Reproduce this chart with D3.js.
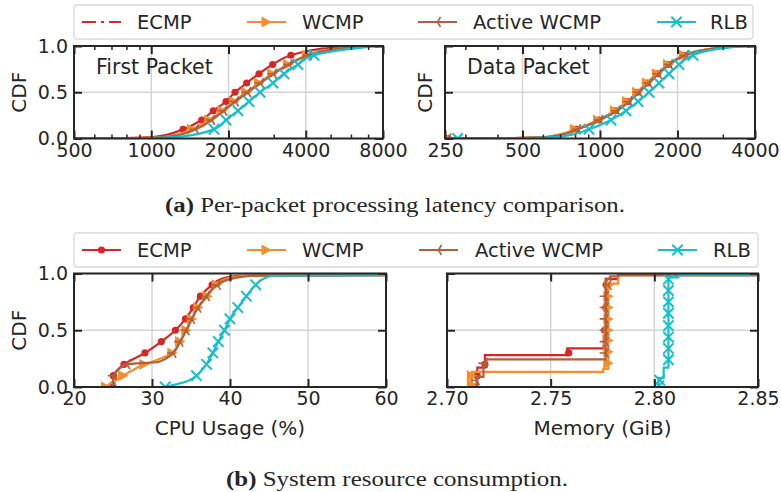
<!DOCTYPE html>
<html><head><meta charset="utf-8">
<script src="https://cdn.jsdelivr.net/npm/d3@7"></script>
<style>
body{margin:0;background:#fff}
svg{display:block}
text{font-family:"DejaVu Sans",sans-serif;fill:#262626}
</style>
</head><body>
<svg id="c" width="781" height="492"></svg>
<script>
// ---------------- DATA ----------------
const seriesNames = ["ECMP", "WCMP", "Active WCMP", "RLB"];
const seriesColors = ["#d62728", "#f28e2b", "#b0603a", "#17becf"];

// latency CDFs: value at each CDF level
const latencyLevels = [0, 0.005, 0.02, 0.1, 0.2, 0.3, 0.4, 0.5, 0.6, 0.7, 0.8, 0.9, 0.95, 0.98, 0.995, 1];
const firstPacketECMP   = [450, 800, 1050, 1330, 1573, 1744, 1956, 2120, 2354, 2630, 2973, 3500, 4150, 5000, 6300, 8000];
const firstPacketWCMP   = [450, 850, 1150, 1441, 1680, 1887, 2100, 2341, 2630, 2955, 3410, 4045, 4700, 5700, 6900, 8000];
const firstPacketActive = [450, 870, 1180, 1490, 1720, 1920, 2130, 2380, 2670, 3000, 3450, 4100, 4800, 5800, 7000, 8000];
const firstPacketRLB    = [450, 950, 1300, 1756, 1956, 2178, 2403, 2654, 2982, 3291, 3730, 4307, 5300, 6500, 7400, 8000];

const dataPacketECMP   = [257, 470, 640, 810, 990, 1150, 1285, 1400, 1530, 1675, 1850, 2130, 2450, 2900, 3400, 4000];
const dataPacketWCMP   = [257, 460, 630, 800, 982, 1143, 1273, 1392, 1522, 1664, 1837, 2120, 2445, 2900, 3400, 4000];
const dataPacketActive = [257, 470, 650, 820, 1000, 1165, 1300, 1420, 1550, 1690, 1865, 2150, 2480, 2950, 3450, 4000];
const dataPacketRLB    = [280, 520, 700, 906, 1103, 1261, 1405, 1550, 1695, 1853, 2027, 2297, 2630, 3100, 3550, 4000];

// CPU usage CDFs
const cpuLevels = [0, 0.05, 0.1, 0.15, 0.2, 0.22, 0.3, 0.4, 0.5, 0.6, 0.7, 0.8, 0.9, 0.95, 0.98, 0.985];
const cpuECMP   = [25.0, 25.0, 25.05, 25.6, 26.4, 26.9, 29.1, 31.2, 33.0, 34.3, 35.3, 36.2, 37.7, 38.8, 41.0, 60];
const cpuWCMP   = [24.1, 25.0, 26.3, 27.6, 29.0, 29.9, 32.6, 33.6, 34.4, 35.1, 35.9, 37.1, 38.3, 39.3, 42.0, 60];
const cpuActive = [24.95, 25.0, 25.1, 25.6, 26.8, 30.8, 32.7, 33.6, 34.4, 35.1, 35.9, 37.0, 38.4, 40.0, 43.0, 60];
const cpuRLB    = [31.7, 34.5, 35.7, 36.4, 37.0, 37.15, 37.8, 38.5, 39.3, 40.0, 41.0, 42.1, 43.3, 44.2, 45.5, 60];
const markerLevels = [0, 0.1, 0.2, 0.3, 0.4, 0.5, 0.6, 0.7, 0.8, 0.9];

// memory CDFs (step functions): [GiB, CDF]
const memECMP   = [[2.7146,0],[2.7146,0.17],[2.7183,0.28],[2.7580,0.34],[2.7756,0.45],[2.7770,0.95],[2.7825,0.985],[2.85,0.985]];
const memWCMP   = [[2.7120,0],[2.7120,0.134],[2.7754,0.16],[2.7778,0.91],[2.7826,0.985],[2.85,0.985]];
const memActive = [[2.7142,0],[2.7142,0.09],[2.7176,0.19],[2.7190,0.243],[2.7765,0.955],[2.7786,0.975],[2.7825,0.985],[2.85,0.985]];
const memRLB    = [[2.8020,0],[2.8020,0.08],[2.8045,0.17],[2.8068,0.965],[2.8115,0.985],[2.85,0.985]];
const memECMPMarks   = [[2.7146,0.1],[2.7183,0.2],[2.7587,0.30],[2.7760,0.5],[2.7765,0.7],[2.7768,0.9]];
const memWCMPMarks   = [[2.7120,0.02],[2.7120,0.1],[2.7778,0.21],[2.7778,0.31],[2.7778,0.41],[2.7778,0.5],[2.7778,0.6],[2.7778,0.7],[2.7778,0.8],[2.7783,0.9]];
const memActiveMarks = [[2.7142,0.06],[2.7180,0.21],[2.7765,0.3],[2.7765,0.4],[2.7765,0.5],[2.7765,0.6],[2.7765,0.7],[2.7765,0.8],[2.7778,0.9]];
const memRLBMarks    = [[2.8022,0.01],[2.8026,0.06],[2.8068,0.24],[2.8068,0.34],[2.8068,0.44],[2.8068,0.54],[2.8068,0.65],[2.8068,0.75],[2.8068,0.85],[2.8068,0.95]];

// ticks
const firstPacketTicks = [500, 1000, 2000, 4000, 8000];
const firstPacketMinor = [600, 700, 800, 900, 3000, 5000, 6000, 7000];
const dataPacketTicks  = [250, 500, 1000, 2000, 4000];
const dataPacketMinor  = [300, 400, 600, 700, 800, 900, 3000];
const cpuTicks = [20, 30, 40, 50, 60];
const memTicks = [2.70, 2.75, 2.80, 2.85];
const cdfTicks = [0, 0.5, 1.0];

// ---------------- DRAWING ----------------
const svg = d3.select("#c");
const FS = 19;

function markerPath(i) {
  if (i === 1) return "M-5,-5.5L5.5,0L-5,5.5Z";
  if (i === 2) return "M0,0L-6,0M0,0L3,-5M0,0L3,5";
  if (i === 3) return "M-5.2,-5.2L5.2,5.2M-5.2,5.2L5.2,-5.2";
  return null;
}
function drawMarker(g, i, cx, cy) {
  const c = seriesColors[i];
  if (i === 0) {
    g.append("circle").attr("cx", cx).attr("cy", cy).attr("r", 3.6).attr("fill", c);
  } else if (i === 1) {
    g.append("path").attr("d", markerPath(1)).attr("transform", `translate(${cx},${cy})`).attr("fill", c);
  } else {
    g.append("path").attr("d", markerPath(i)).attr("transform", `translate(${cx},${cy})`)
      .attr("fill", "none").attr("stroke", c).attr("stroke-width", i === 3 ? 2 : 1.6);
  }
}

let clipId = 0;
function panel(opts) {
  const {x, y, x0, x1, y0, y1} = opts;
  const g = svg.append("g");
  const id = "clip" + (clipId++);
  g.append("clipPath").attr("id", id).append("rect")
    .attr("x", x0).attr("y", y1).attr("width", x1 - x0).attr("height", y0 - y1);
  const grid = g.append("g").attr("stroke", "#d4d4d4").attr("stroke-width", 1.5);
  opts.xTicks.forEach(t => grid.append("line").attr("x1", x(t)).attr("x2", x(t)).attr("y1", y0).attr("y2", y1));
  cdfTicks.forEach(t => grid.append("line").attr("x1", x0).attr("x2", x1).attr("y1", y(t)).attr("y2", y(t)));
  const body = g.append("g").attr("clip-path", `url(#${id})`);
  opts.draw(body);
  g.append("rect").attr("x", x0).attr("y", y1).attr("width", x1 - x0).attr("height", y0 - y1)
    .attr("fill", "none").attr("stroke", "#262626").attr("stroke-width", 2);
  const fmt = opts.fmt || (d => d);
  const bx = g.append("g").attr("transform", `translate(0,${y0})`)
    .call(d3.axisBottom(x).tickValues(opts.xTicks).tickSize(-8).tickPadding(5).tickFormat(fmt));
  const tx = g.append("g").attr("transform", `translate(0,${y1})`)
    .call(d3.axisTop(x).tickValues(opts.xTicks).tickSize(-8).tickFormat(""));
  const axes = [bx, tx];
  if (opts.minor) {
    axes.push(g.append("g").attr("transform", `translate(0,${y0})`)
      .call(d3.axisBottom(x).tickValues(opts.minor).tickSize(-4).tickFormat("")));
    axes.push(g.append("g").attr("transform", `translate(0,${y1})`)
      .call(d3.axisTop(x).tickValues(opts.minor).tickSize(-4).tickFormat("")));
  }
  const ly = g.append("g").attr("transform", `translate(${x0},0)`)
    .call(d3.axisLeft(y).tickValues(cdfTicks).tickSize(-8).tickPadding(6)
      .tickFormat(opts.yLabels ? d3.format(".1f") : ""));
  const ry = g.append("g").attr("transform", `translate(${x1},0)`)
    .call(d3.axisRight(y).tickValues(cdfTicks).tickSize(-8).tickFormat(""));
  axes.push(ly, ry);
  axes.forEach(a => {
    a.select(".domain").remove();
    a.selectAll("line").attr("stroke", "#262626").attr("stroke-width", 2);
    a.selectAll("text").attr("font-size", FS).attr("font-family", "DejaVu Sans").attr("fill", "#262626");
  });
  if (opts.minor) {
    axes[2].selectAll("line").attr("stroke-width", 1.5);
    axes[3].selectAll("line").attr("stroke-width", 1.5);
  }
  if (opts.ylabel) {
    g.append("text").attr("transform", `translate(${opts.ylabelX},${(y0 + y1) / 2}) rotate(-90)`)
      .attr("text-anchor", "middle").attr("dominant-baseline", "central").attr("font-size", 20).text("CDF");
  }
  if (opts.xlabel) {
    g.append("text").attr("x", (x0 + x1) / 2).attr("y", 435).attr("text-anchor", "middle")
      .attr("font-size", 20).text(opts.xlabel);
  }
  if (opts.note) {
    g.append("text").attr("x", opts.noteX).attr("y", 74).attr("font-size", 20.5).text(opts.note);
  }
  return g;
}

function smoothSeries(body, x, y, levels, arrays) {
  const line = d3.line().x(d => x(d[0])).y(d => y(d[1])).curve(d3.curveMonotoneY);
  arrays.forEach((vals, i) => {
    const pts = vals.map((v, k) => [v, levels[k]]);
    body.append("path").attr("d", line(pts)).attr("fill", "none")
      .attr("stroke", seriesColors[i]).attr("stroke-width", 2.2);
    pts.filter(p => markerLevels.includes(p[1])).forEach(p => drawMarker(body, i, x(p[0]), y(p[1])));
  });
}
function stepSeries(body, x, y, arrays, marks) {
  const line = d3.line().x(d => x(d[0])).y(d => y(d[1])).curve(d3.curveStepAfter);
  arrays.forEach((pts, i) => {
    body.append("path").attr("d", line(pts)).attr("fill", "none")
      .attr("stroke", seriesColors[i]).attr("stroke-width", 2.2);
    marks[i].forEach(p => drawMarker(body, i, x(p[0]), y(p[1])));
  });
}

const xFP = d3.scaleLog().domain([500, 8000]).range([74, 383]);
const yTop = d3.scaleLinear().domain([0, 1]).range([138.5, 46]);
panel({x: xFP, y: yTop, x0: 74, x1: 383, y0: 138.5, y1: 46, xTicks: firstPacketTicks, minor: firstPacketMinor,
  yLabels: true, ylabel: true, ylabelX: 19, note: "First Packet", noteX: 96,
  draw: b => smoothSeries(b, xFP, yTop, latencyLevels, [firstPacketECMP, firstPacketWCMP, firstPacketActive, firstPacketRLB])});
const xDP = d3.scaleLog().domain([250, 4000]).range([445, 755]);
panel({x: xDP, y: yTop, x0: 445, x1: 755, y0: 138.5, y1: 46, xTicks: dataPacketTicks, minor: dataPacketMinor,
  yLabels: false, ylabel: true, ylabelX: 425, note: "Data Packet", noteX: 467,
  draw: b => smoothSeries(b, xDP, yTop, latencyLevels, [dataPacketECMP, dataPacketWCMP, dataPacketActive, dataPacketRLB])});
const xCPU = d3.scaleLinear().domain([20, 60]).range([74, 386]);
const yBot = d3.scaleLinear().domain([0, 1]).range([387, 273.5]);
panel({x: xCPU, y: yBot, x0: 74, x1: 386, y0: 387, y1: 273.5, xTicks: cpuTicks,
  yLabels: true, ylabel: true, ylabelX: 19, xlabel: "CPU Usage (%)",
  draw: b => smoothSeries(b, xCPU, yBot, cpuLevels, [cpuECMP, cpuWCMP, cpuActive, cpuRLB])});
const xMem = d3.scaleLinear().domain([2.70, 2.85]).range([447, 758]);
panel({x: xMem, y: yBot, x0: 447, x1: 758, y0: 387, y1: 273.5, xTicks: memTicks, fmt: d3.format(".2f"),
  yLabels: false, xlabel: "Memory (GiB)",
  draw: b => stepSeries(b, xMem, yBot, [memECMP, memWCMP, memActive, memRLB],
    [memECMPMarks, memWCMPMarks, memActiveMarks, memRLBMarks])});

function legend(y0, x1, handles, labels, ecmpDash) {
  const g = svg.append("g");
  g.append("rect").attr("x", 74).attr("y", y0).attr("width", x1 - 74).attr("height", 34).attr("rx", 3)
    .attr("fill", "#fff").attr("stroke", "#d9d9d9").attr("stroke-width", 1.3);
  const cy = y0 + 17;
  seriesNames.forEach((n, i) => {
    const hx = handles[i];
    g.append("line").attr("x1", hx).attr("x2", hx + 39).attr("y1", cy).attr("y2", cy)
      .attr("stroke", seriesColors[i]).attr("stroke-width", 2.2)
      .attr("stroke-dasharray", (i === 0 && ecmpDash) ? "14,5,3,5" : null);
    if (!(i === 0 && ecmpDash)) drawMarker(g, i, hx + 19.5, cy);
    g.append("text").attr("x", labels[i]).attr("y", cy).attr("dominant-baseline", "central")
      .attr("font-size", FS + 0.5).text(n);
  });
}
legend(5, 753, [82, 247, 418, 657], [137, 302, 473, 710], true);
legend(233, 758, [82, 247, 419, 658], [137, 302, 475, 713], false);

function caption(x, yb, w, tag, rest) {
  const t = svg.append("text").attr("x", x).attr("y", yb)
    .attr("font-family", "Liberation Serif, serif").attr("font-size", 20.5)
    .attr("textLength", w).attr("lengthAdjust", "spacingAndGlyphs");
  t.append("tspan").attr("font-weight", "bold").attr("font-family", "Liberation Serif, serif").text(tag);
  t.append("tspan").attr("font-family", "Liberation Serif, serif").text(" " + rest);
}
caption(165, 212, 460, "(a)", "Per-packet processing latency comparison.");
caption(226, 486, 342, "(b)", "System resource consumption.");
</script>
</body></html>
